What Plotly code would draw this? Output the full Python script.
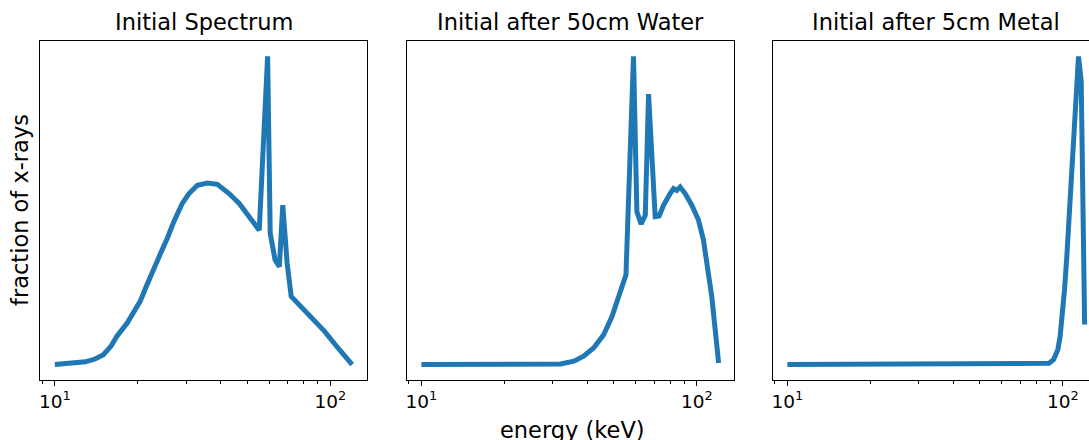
import math
import plotly.graph_objects as go

# ---------------- data ----------------
energy_initial = [10, 11, 12, 12.9, 14, 15, 16, 16.8, 18.3, 19.3, 20.4, 21.6, 22.9, 24.2, 25.6,
                  27.0, 29.0, 30.7, 32.9, 35.8, 38.9, 42.9, 46.7, 50.1, 55.2, 59.2, 60.5, 63.0,
                  65.3, 67.2, 69.7, 72.1, 75.1, 82.9, 95.3, 106.6, 120]
frac_initial = [0.0, 0.002, 0.005, 0.009, 0.018, 0.032, 0.06, 0.092, 0.135, 0.167, 0.205, 0.259,
                0.307, 0.361, 0.41, 0.463, 0.523, 0.555, 0.582, 0.589, 0.585, 0.555, 0.523, 0.485,
                0.436, 1.0, 0.426, 0.34, 0.318, 0.517, 0.329, 0.221, 0.205, 0.167, 0.108, 0.054,
                0.0]

energy_water = [10, 20, 30, 32.0, 35.8, 38.8, 42.2, 45.9, 49.2, 50.6, 52.7, 55.3, 58.9, 60.6, 62.8,
                65.0, 66.8, 70.6, 73.0, 75.7, 80.0, 82.3, 84.5, 87.0, 90.7, 95.9, 101.4, 105.7,
                113.3, 120]
frac_water = [0.0, 0.0, 0.0, 0.002, 0.011, 0.027, 0.054, 0.097, 0.156, 0.189, 0.226, 0.291, 1.0,
              0.496, 0.456, 0.485, 0.878, 0.48, 0.482, 0.517, 0.555, 0.571, 0.565, 0.576, 0.555,
              0.517, 0.469, 0.404, 0.221, 0.005]

energy_metal = [10, 20, 40, 60, 80, 85.1, 89.0, 92.5, 95.9, 97.8, 99.7, 101.4, 103.4, 105.4,
                107.8, 109.9, 111.8, 114.0, 116.6, 120]
frac_metal = [0.0, 0.0, 0.0, 0.0, 0.0, 0.001, 0.004, 0.016, 0.048, 0.092, 0.156, 0.242, 0.35,
              0.48, 0.63, 0.781, 0.91, 1.0, 0.92, 0.13]

titles = ["Initial Spectrum", "Initial after 50cm Water", "Initial after 5cm Metal"]
tick_vals = [10, 100]
tick_text = ["10<sup>1</sup>", "10<sup>2</sup>"]
minor_vals = [9, 20, 30, 40, 50, 60, 70, 80, 90, 200]

# ---------------- layout ----------------
W, H = 1089, 440
COLOR = "#1f77b4"
FONT = "DejaVu Sans, Arial, sans-serif"
TITLE_SIZE = 22.5
TICK_SIZE = 18.5

series = [(energy_initial, frac_initial), (energy_water, frac_water), (energy_metal, frac_metal)]
panel_px = [(40.0, 367.0), (406.5, 733.5), (772.5, 1099.5)]
ydom = [1 - 380 / H, 1 - 41 / H]

fig = go.Figure()
annotations = []
for i, ((xs, ys), (l, r)) in enumerate(zip(series, panel_px)):
    n = "" if i == 0 else str(i + 1)
    lx, hx = math.log10(min(xs)), math.log10(max(xs))
    span = hx - lx
    xr = [lx - 0.05 * span, hx + 0.05 * span]
    rr = r
    if r > W:  # panel runs past the window edge: truncate range
        frac = (W - l) / (r - l)
        xr = [xr[0], xr[0] + frac * (xr[1] - xr[0])]
        rr = W
    ymin, ymax = min(ys), max(ys)
    ys_span = ymax - ymin
    yr = [ymin - 0.05 * ys_span, ymax + 0.05 * ys_span]

    fig.add_trace(go.Scatter(x=xs, y=ys, mode="lines", xaxis="x" + n, yaxis="y" + n,
                             line=dict(color=COLOR, width=5), showlegend=False,
                             hoverinfo="skip"))
    fig.layout["xaxis" + n] = dict(
        type="log", range=xr, domain=[l / W, min(rr / W, 1.0)], anchor="y" + n,
        showgrid=False, zeroline=False, showline=True, linecolor="black", linewidth=1.1,
        mirror=True, ticks="outside", ticklen=5, tickwidth=1, tickcolor="black",
        tickvals=tick_vals, ticktext=tick_text,
        tickfont=dict(family=FONT, size=TICK_SIZE, color="black"),
        minor=dict(tickvals=minor_vals, ticks="outside", ticklen=3, tickwidth=0.8,
                   tickcolor="black", showgrid=False),
    )
    fig.layout["yaxis" + n] = dict(
        range=yr, domain=ydom, anchor="x" + n, showgrid=False, zeroline=False,
        showline=True, linecolor="black", linewidth=1.1, mirror=(i < 2),
        showticklabels=False, ticks="",
    )
    annotations.append(dict(text=titles[i], x=((l + r) / 2) / W,
                            y=1 - 22 / H, xref="paper", yref="paper", showarrow=False,
                            xanchor="center", yanchor="middle",
                            font=dict(family=FONT, size=TITLE_SIZE, color="black")))

annotations.append(dict(text="energy (keV)", x=572 / W, y=1 - 430 / H, xref="paper", yref="paper",
                        showarrow=False, xanchor="center", yanchor="middle",
                        font=dict(family=FONT, size=TITLE_SIZE, color="black")))
annotations.append(dict(text="fraction of x-rays", x=20 / W, y=1 - 210 / H, xref="paper",
                        yref="paper", showarrow=False, xanchor="center", yanchor="middle",
                        textangle=-90, font=dict(family=FONT, size=TITLE_SIZE, color="black")))

fig.update_layout(width=W, height=H, margin=dict(l=0, r=0, t=0, b=0),
                  paper_bgcolor="white", plot_bgcolor="white", annotations=annotations,
                  font=dict(family=FONT), hovermode=False)
fig.write_html("out.html", config={"displayModeBar": False},
               post_script="document.body.style.margin='0';document.body.style.overflow='hidden';")
